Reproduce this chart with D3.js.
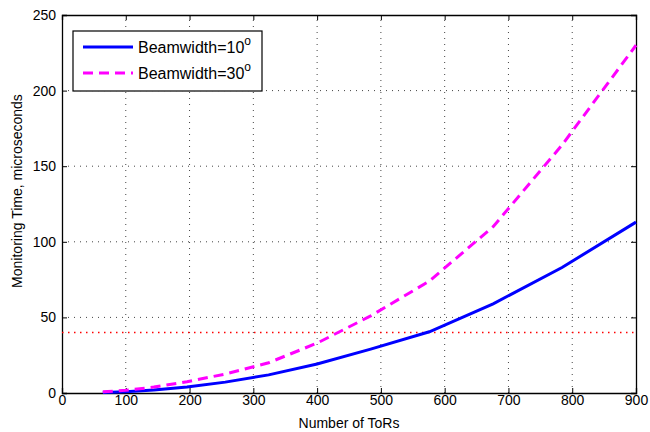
<!DOCTYPE html>
<html>
<head>
<meta charset="utf-8">
<script src="https://cdn.jsdelivr.net/npm/d3@7"></script>
<style>
	body { margin: 0; background: #fff; }
	text { font-family: "Liberation Sans", Arial, sans-serif; }
</style>
</head>
<body>
<svg id="chart" width="650" height="432"></svg>
<script>
// number of ToRs (8^2 ... 30^2)
var tors = [64, 100, 144, 196, 256, 324, 400, 484, 576, 676, 784, 900]
// monitoring time, microseconds
var beam10 = [0.4, 0.9, 2.0, 4.0, 7.2, 12, 19.2, 29, 40.5, 59, 83, 113]
var beam30 = [0.8, 1.8, 3.9, 7.5, 12.5, 20, 33, 51, 74, 110, 164, 230]
var threshold = 40
var xTicks = [0, 100, 200, 300, 400, 500, 600, 700, 800, 900]
var yTicks = [0, 50, 100, 150, 200, 250]

var margin = {left: 62, right: 14, top: 15, bottom: 39}
var W = 650, H = 432
var svg = d3.select("#chart")

var x = d3.scaleLinear().domain([0, 900]).range([margin.left, W - margin.right])
var y = d3.scaleLinear().domain([0, 250]).range([H - margin.bottom, margin.top])

// grid
var grid = svg.append("g")
grid.selectAll(".gx").data(xTicks.slice(1, -1)).enter().append("line")
	.attr("x1", d => x(d)).attr("x2", d => x(d))
	.attr("y1", y(0)).attr("y2", y(250))
	.attr("stroke", "#444").attr("stroke-width", 1)
	.attr("stroke-dasharray", "1,5")
grid.selectAll(".gy").data(yTicks.slice(1, -1)).enter().append("line")
	.attr("y1", d => y(d)).attr("y2", d => y(d))
	.attr("x1", x(0)).attr("x2", x(900))
	.attr("stroke", "#444").attr("stroke-width", 1)
	.attr("stroke-dasharray", "1,5")

// axes, ticks pointing inward
svg.append("g").attr("transform", "translate(0," + y(0) + ")")
	.call(d3.axisBottom(x).tickValues(xTicks).tickSize(-5).tickPadding(2))
svg.append("g").attr("transform", "translate(0," + y(250) + ")")
	.call(d3.axisTop(x).tickValues(xTicks).tickSize(-5).tickFormat(""))
svg.append("g").attr("transform", "translate(" + x(0) + ",0)")
	.call(d3.axisLeft(y).tickValues(yTicks).tickSize(-5).tickPadding(6))
svg.append("g").attr("transform", "translate(" + x(900) + ",0)")
	.call(d3.axisRight(y).tickValues(yTicks).tickSize(-5).tickFormat(""))
svg.selectAll(".domain").attr("stroke", "#000").attr("stroke-width", 1.3)
svg.selectAll(".tick line").attr("stroke", "#000")
svg.selectAll(".tick text").attr("font-size", 14).attr("fill", "#000")
	.style("font-family", "Liberation Sans, Arial, sans-serif")

// threshold
svg.append("line")
	.attr("x1", x(0)).attr("x2", x(900))
	.attr("y1", y(threshold)).attr("y2", y(threshold))
	.attr("stroke", "#ff0000").attr("stroke-width", 1.5)
	.attr("stroke-dasharray", "1.5,4.5")

var line = d3.line()
	.x((d, i) => x(tors[i]))
	.y(d => y(d))

svg.append("path").datum(beam10)
	.attr("d", line)
	.attr("fill", "none").attr("stroke", "#0000ff").attr("stroke-width", 3)
svg.append("path").datum(beam30)
	.attr("d", line)
	.attr("fill", "none").attr("stroke", "#ff00ff").attr("stroke-width", 3)
	.attr("stroke-dasharray", "10,6")

// labels
svg.append("text").attr("x", x(450)).attr("y", 428)
	.attr("text-anchor", "middle").attr("font-size", 14).text("Number of ToRs")
svg.append("text")
	.attr("transform", "translate(22,191) rotate(-90)")
	.attr("text-anchor", "middle").attr("font-size", 14).text("Monitoring Time, microseconds")

// legend
var lg = svg.append("g").attr("transform", "translate(73,31)")
lg.append("rect").attr("width", 189).attr("height", 60)
	.attr("fill", "#fff").attr("stroke", "#000").attr("stroke-width", 1.2)
var items = [
	{label: "Beamwidth=10", color: "#0000ff", dash: null},
	{label: "Beamwidth=30", color: "#ff00ff", dash: "10,6"}
]
items.forEach(function(it, i){
	var yy = 16 + i * 26
	lg.append("line").attr("x1", 10).attr("x2", 60).attr("y1", yy).attr("y2", yy)
		.attr("stroke", it.color).attr("stroke-width", 3)
		.attr("stroke-dasharray", it.dash)
	var t = lg.append("text").attr("x", 65).attr("y", yy + 6).attr("font-size", 16)
	t.append("tspan").text(it.label)
	t.append("tspan").attr("dy", -8).attr("font-size", 12).text("o")
})
</script>
</body>
</html>
